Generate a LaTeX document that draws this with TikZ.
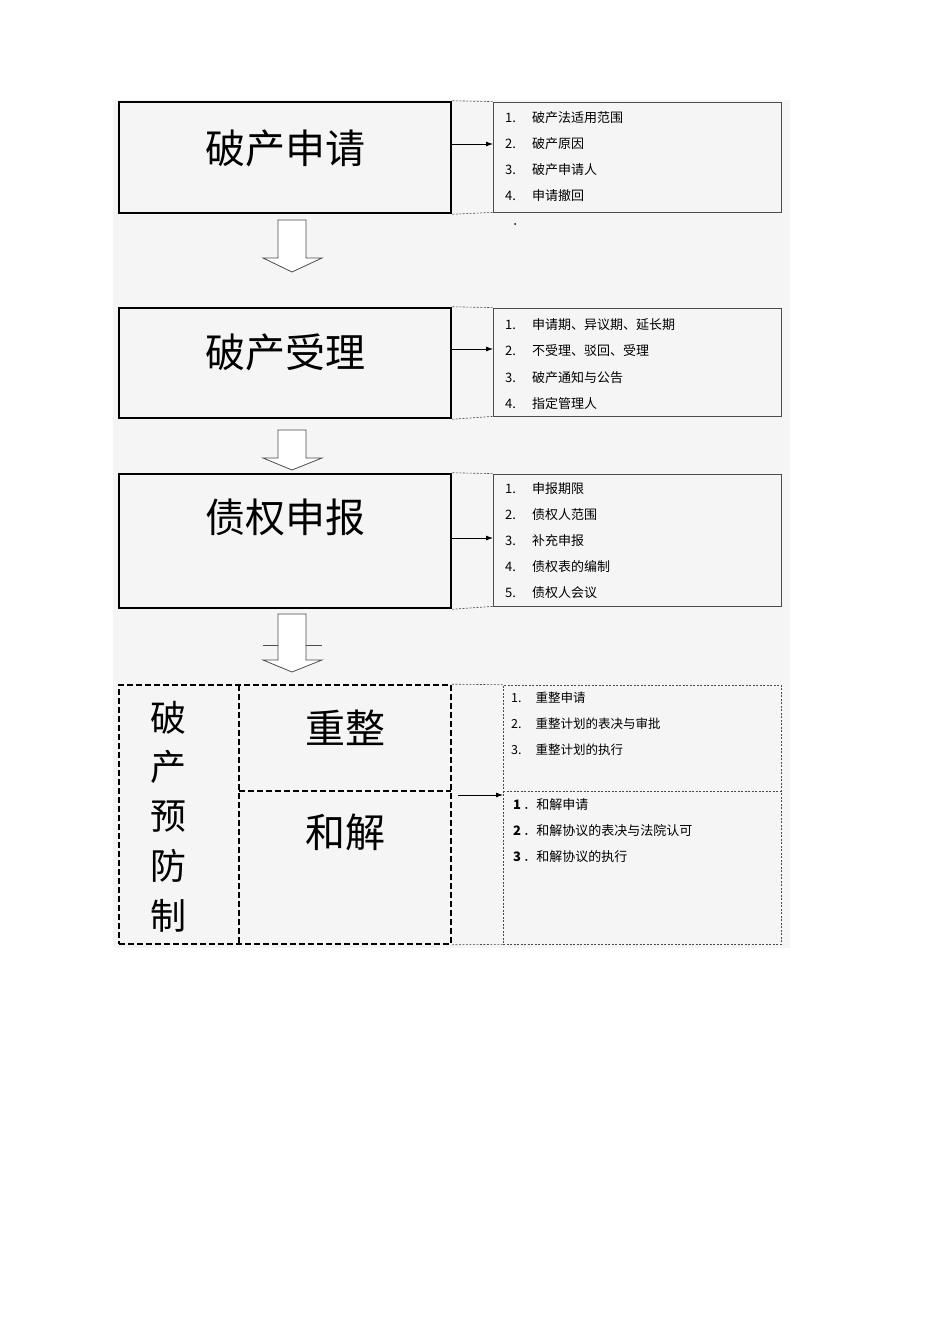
\documentclass[tikz,border=0pt]{standalone}
\usepackage{fontspec}
\setmainfont{Noto Sans CJK SC}
\usetikzlibrary{arrows.meta}
\begin{document}
\begin{tikzpicture}[x=1pt,y=-1pt,
  title/.style={font=\fontsize{40}{44}\selectfont},
  item/.style={font=\fontsize{13}{15}\selectfont,anchor=west,inner sep=0},
  thickbox/.style={draw,line width=2.5pt},
  listbox/.style={draw=black!70,line width=0.8pt},
  dbox/.style={draw,line width=1.6pt,dash pattern=on 6pt off 3pt},
  tdbox/.style={draw=black!70,line width=0.6pt,dash pattern=on 2pt off 1.5pt},
  hollow/.style={draw=black!70,line width=0.8pt,fill=white},
  conn/.style={-{Latex[length=7pt,width=5pt]},line width=0.8pt}]
\useasboundingbox (0,0) rectangle (950,1344);
\fill[white] (0,0) rectangle (950,1344);
\fill[black!4] (113,100) rectangle (790,948);
% stage 1
\node[thickbox,minimum width=332pt,minimum height=111pt] (b1) at (285,157.5) {};
\node[title] at (285,148) {破产申请};
\node[listbox,minimum width=288pt,minimum height=110pt] (l1) at (637,157) {};
\draw[tdbox] (b1.north east) -- (l1.north west) (b1.south east) -- (l1.south west);
\coordinate (a1) at (451,144); \coordinate (e1) at (493,144);
\draw[conn] (a1) -- (e1);
\foreach \t [count=\i] in {破产法适用范围,破产原因,破产申请人,申请撤回}
  {\node[item] at (505,92+26*\i) {\i.\hspace{16pt}\t};}
\fill (515,224) circle (1pt);
% arrow 1
\draw[hollow] (278,220) -- (306,220) -- (306,258) -- (322,258) -- (292,272) -- (263,258) -- (278,258) -- cycle;
% stage 2
\node[thickbox,minimum width=332pt,minimum height=110pt] (b2) at (285,363) {};
\node[title] at (285,352) {破产受理};
\node[listbox,minimum width=288pt,minimum height=108pt] (l2) at (637,362) {};
\draw[tdbox] (b2.north east) -- (l2.north west) (b2.south east) -- (l2.south west);
\coordinate (a2) at (451,349); \coordinate (e2) at (493,349);
\draw[conn] (a2) -- (e2);
\foreach \t [count=\i] in {申请期、异议期、延长期,不受理、驳回、受理,破产通知与公告,指定管理人}
  {\node[item] at (505,298+26.5*\i) {\i.\hspace{16pt}\t};}
% arrow 2
\draw[hollow] (278,430) -- (306,430) -- (306,458) -- (322,458) -- (292,470) -- (263,458) -- (278,458) -- cycle;
% stage 3
\node[thickbox,minimum width=332pt,minimum height=134pt] (b3) at (285,541) {};
\node[title] at (285,517) {债权申报};
\node[listbox,minimum width=288pt,minimum height=132pt] (l3) at (637,540) {};
\draw[tdbox] (b3.north east) -- (l3.north west) (b3.south east) -- (l3.south west);
\coordinate (a3) at (451,538); \coordinate (e3) at (493,538);
\draw[conn] (a3) -- (e3);
\foreach \t [count=\i] in {申报期限,债权人范围,补充申报,债权表的编制,债权人会议}
  {\node[item] at (505,463+26*\i) {\i.\hspace{16pt}\t};}
% arrow 3
\draw[hollow] (278,614) -- (306,614) -- (306,660) -- (322,660) -- (292,672) -- (263,660) -- (278,660) -- cycle;
\draw[black!70,line width=0.8pt] (263,645) -- (278,645) (306,645) -- (322,645);
% stage 4
\node[dbox,minimum width=332pt,minimum height=259pt] (b4) at (285,814.5) {};
\coordinate (v1) at (239,685); \coordinate (v2) at (239,944);
\draw[dbox] (v1) -- (v2);
\coordinate (h1) at (239,791); \coordinate (h2) at (451,791);
\draw[dbox] (h1) -- (h2);
\foreach \c [count=\i] in {破,产,预,防,制}
  {\node[font=\fontsize{36}{40}\selectfont] at (168,668+49.5*\i) {\c};}
\node[title] at (345,728) {重整};
\node[title] at (345,832) {和解};
\node[tdbox,minimum width=278pt,minimum height=259pt] (l4) at (642,814.5) {};
\draw[tdbox] (b4.north east) -- (l4.north west) (b4.south east) -- (l4.south west);
\coordinate (m1) at (503,791); \coordinate (m2) at (781,791);
\draw[tdbox] (m1) -- (m2);
\coordinate (a4) at (458,795); \coordinate (e4) at (503,795);
\draw[conn] (a4) -- (e4);
\foreach \t [count=\i] in {重整申请,重整计划的表决与审批,重整计划的执行}
  {\node[item,font=\fontsize{12.5}{15}\selectfont] at (511,672+26*\i) {\i.\hspace{14pt}\t};}
\foreach \t [count=\i] in {和解申请,和解协议的表决与法院认可,和解协议的执行}
  {\node[item] at (513,779+26*\i) {\textbf{\i}\,．\t};}
\end{tikzpicture}
\end{document}
